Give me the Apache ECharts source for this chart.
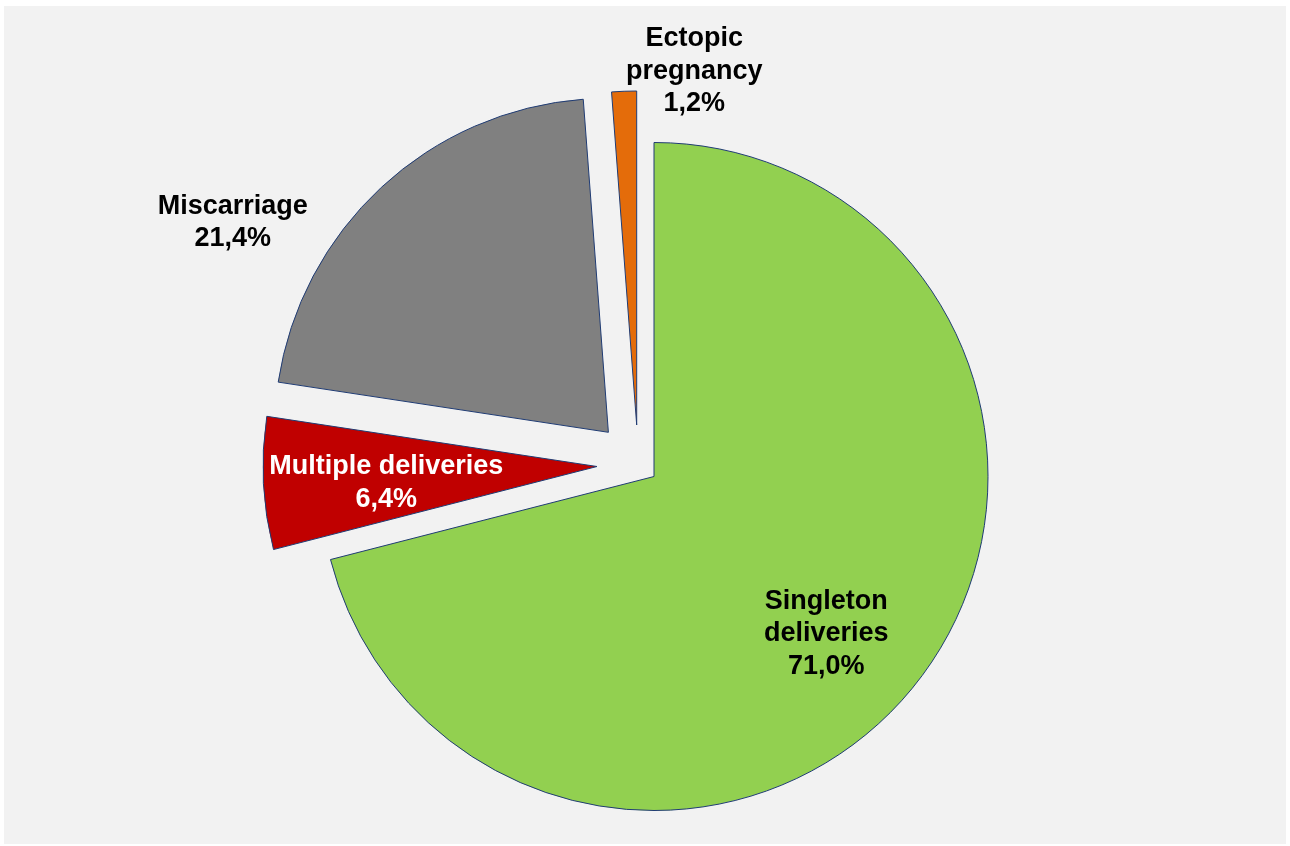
<!DOCTYPE html>
<html>
<head>
<meta charset="utf-8">
<title>Pregnancy outcomes</title>
<script src="https://cdn.jsdelivr.net/npm/echarts@6/dist/echarts.min.js"></script>
<style>
  html, body { margin: 0; padding: 0; background: #ffffff; }
  #backdrop { position: absolute; left: 4px; top: 6px; width: 1282px; height: 838px; background: #f2f2f2; }
  #chart { position: absolute; left: 0; top: 0; width: 1290px; height: 846px; }
</style>
</head>
<body>
<div id="backdrop"></div>
<div id="chart"></div>
<script>
// Outcome categories and their shares (percent)
const categories = ['Singleton deliveries', 'Multiple deliveries', 'Miscarriage', 'Ectopic pregnancy'];
const labelNames = ['Singleton\ndeliveries', 'Multiple deliveries', 'Miscarriage', 'Ectopic\npregnancy'];
const shares = [71.0, 6.4, 21.4, 1.2];

// Styling
const sliceColors = ['#92d050', '#c00000', '#808080', '#e46c0a'];
const labelColors = ['#000000', '#ffffff', '#000000', '#000000'];
const edgeColor = '#1f3b73';

// Layout: pie centre/radius, how far each slice is pulled out, label nudges
const pieCenter = [654, 476.5];
const pieRadius = 334;
const explode = [[0, 0], [-57, -10], [-45.6, -44.2], [-17.3, -51.5]];
const labelShift = [[38, 53], [-41, 8], [-260, -85], [64, -184]];

const fmt = v => v.toFixed(1).replace('.', ',') + '%';

// One pie layer per slice so each slice can be pulled out in its own direction;
// every layer shares the same data, only its own slice is painted.
const series = categories.map((cat, i) => ({
  type: 'pie',
  name: cat,
  center: [pieCenter[0] + explode[i][0], pieCenter[1] + explode[i][1]],
  radius: pieRadius,
  startAngle: 90,
  clockwise: true,
  avoidLabelOverlap: false,
  animation: false,
  emphasis: { disabled: true },
  labelLine: { show: false },
  labelLayout: { dx: labelShift[i][0], dy: labelShift[i][1] },
  data: shares.map((v, j) => ({
    name: categories[j],
    value: v,
    itemStyle: j === i
      ? { color: sliceColors[j], borderColor: edgeColor, borderWidth: 1 }
      : { color: 'rgba(0,0,0,0)', borderWidth: 0 },
    label: j === i
      ? {
          show: true,
          position: 'inside',
          formatter: () => labelNames[j] + '\n' + fmt(v),
          color: labelColors[j],
          fontFamily: '"Liberation Sans", Arial, sans-serif',
          fontWeight: 'bold',
          fontSize: 27,
          lineHeight: 32.5,
          align: 'center'
        }
      : { show: false }
  }))
}));

const chart = echarts.init(document.getElementById('chart'), null, { renderer: 'canvas' });
chart.setOption({
  backgroundColor: 'transparent',
  tooltip: { show: false },
  series: series
});
</script>
</body>
</html>
